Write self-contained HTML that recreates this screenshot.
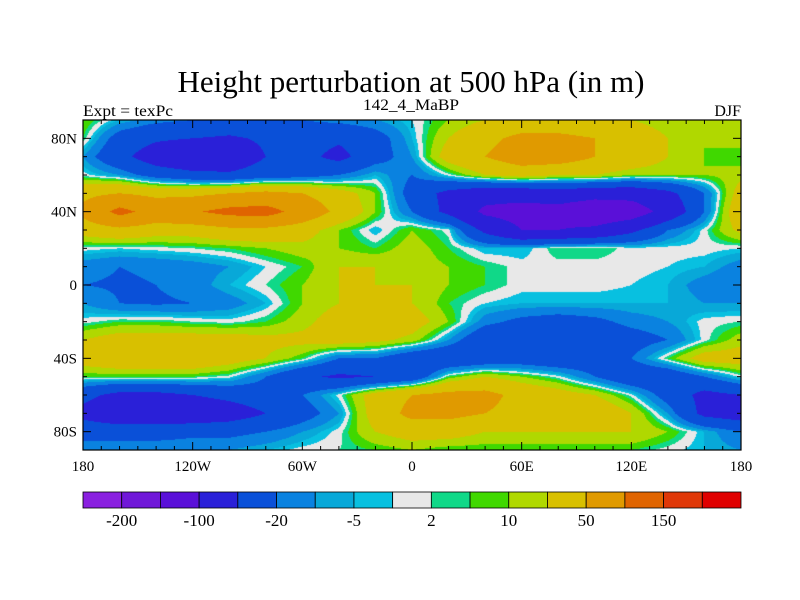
<!DOCTYPE html>
<html><head><meta charset="utf-8"><style>
html,body{margin:0;padding:0;background:#fff;}
#wrap{position:relative;width:800px;height:600px;overflow:hidden;}
#field{position:absolute;left:83px;top:120px;}
svg{position:absolute;left:0;top:0;}
</style></head><body>
<div id="wrap">
<canvas id="field" width="658" height="330"></canvas>
<svg id="svg" width="800" height="600" font-family="Liberation Serif, serif">
<text x="411" y="92" text-anchor="middle" font-size="31" textLength="467" lengthAdjust="spacingAndGlyphs">Height perturbation at 500 hPa (in m)</text>
<text x="83" y="116" font-size="16" textLength="90" lengthAdjust="spacingAndGlyphs">Expt = texPc</text>
<text x="411" y="110" text-anchor="middle" font-size="16" textLength="96" lengthAdjust="spacingAndGlyphs">142_4_MaBP</text>
<text x="741" y="116" text-anchor="end" font-size="16">DJF</text>
<g id="axes"></g>
<g id="cbar"></g>
</svg>
</div>
<script>
// Levels and colours of the filled-contour scale
const levels=[-200,-150,-100,-50,-20,-10,-5,-2,2,5,10,20,50,100,150,200];
const colors=["#8a20e0","#7018d8","#5a10d8","#2a20d8","#0a50d8","#0a82e0","#08a8d8","#08c0e0","#e8e8e8","#10d888","#40d800","#b0d800","#d8c000","#e09a00","#e06400","#e03808","#e00000"];
const cbarLabels=["-200","-100","-20","-5","2","10","50","150"];
// Grid: longitudes -180..180 step 20, latitudes 90N..90S step 10
const lons=[-180,-160,-140,-120,-100,-80,-60,-40,-20,0,20,40,60,80,100,120,140,160,180];
const lats=[90,80,70,60,50,40,30,20,10,0,-10,-20,-30,-40,-50,-60,-70,-80,-90];
const row90N=[10,-5,-15,-20,-25,-25,-20,-15,-10,-2,10,20,25,25,20,20,15,10,10];
const row80N=[5,-30,-45,-50,-55,-45,-35,-45,-30,-5,20,40,60,60,50,30,20,10,15];
const row70N=[-10,-40,-70,-85,-75,-50,-40,-60,-30,-10,30,50,70,70,50,40,20,10,5];
const row60N=[0,-10,-30,-40,-45,-35,-30,-20,-5,-20,0,20,30,20,20,10,10,10,15];
const row50N=[40,50,40,40,50,60,50,30,10,-30,-60,-80,-80,-70,-80,-80,-60,-20,30];
const row40N=[60,115,80,95,115,120,80,40,10,-20,-60,-110,-120,-120,-140,-130,-80,-20,40];
const row30N=[30,40,30,30,40,40,30,10,-5,10,0,-60,-100,-100,-90,-60,-20,0,25];
const row20N=[0,-2,0,2,5,10,15,10,5,15,5,-5,-5,5,5,0,0,0,-2];
const row10N=[-15,-20,-18,-15,-10,-2,5,20,20,15,10,5,0,0,0,0,-2,-5,-15];
const row0=[-20,-22,-20,-15,-5,2,10,20,20,20,10,5,0,0,0,-2,-5,-15,-20];
const row10S=[-10,-20,-22,-20,-15,-5,10,20,20,20,5,-2,-5,-5,-5,-5,-5,-10,-10];
const row20S=[0,5,5,2,0,5,15,30,40,30,10,-15,-25,-30,-25,-15,-10,0,2];
const row30S=[20,30,30,30,30,25,25,30,25,15,-10,-40,-40,-40,-35,-30,-20,0,15];
const row40S=[30,40,40,40,30,20,5,-20,-20,-40,-45,-40,-35,-40,-35,-20,5,30,30];
const row50S=[5,5,5,5,0,-20,-45,-55,-50,-40,5,20,10,0,-20,-40,-40,-20,0];
const row60S=[-40,-60,-60,-50,-40,-30,-20,0,30,50,60,60,40,30,20,0,-30,-60,-50];
const row70S=[-60,-80,-80,-80,-70,-50,-30,-10,30,60,60,50,40,40,40,20,-10,-60,-70];
const row80S=[-30,-30,-30,-25,-25,-20,-10,0,20,30,30,20,20,20,20,20,10,-5,-20];
const row90S=[-10,-10,-10,-10,-10,-5,0,2,5,10,5,5,5,5,5,5,0,-5,-10];
const grid=[row90N,row80N,row70N,row60N,row50N,row40N,row30N,row20N,row10N,row0,row10S,row20S,row30S,row40S,row50S,row60S,row70S,row80S,row90S];

const PX=83,PY=120,PW=658,PH=330;
function xOf(lon){return PX+(lon+180)/360*PW;}
function yOf(lat){return PY+(90-lat)/180*PH;}
function hex(c){return [parseInt(c.substr(1,2),16),parseInt(c.substr(3,2),16),parseInt(c.substr(5,2),16)];}
const rgb=colors.map(hex);
function colorIdx(v){let i=0;while(i<levels.length&&v>=levels[i])i++;return i;}

// field
(function(){
  const cv=document.getElementById('field'),ctx=cv.getContext('2d');
  const img=ctx.createImageData(PW,PH);
  const nLon=lons.length-1,nLat=lats.length-1;
  for(let py=0;py<PH;py++){
    const lat=90-(py+0.5)/PH*180;
    let fy=(lats[0]-lat)/(lats[0]-lats[nLat])*nLat; let j=Math.min(nLat-1,Math.floor(fy)); let ty=fy-j;
    for(let px=0;px<PW;px++){
      const lon=-180+(px+0.5)/PW*360;
      let fx=(lon-lons[0])/(lons[nLon]-lons[0])*nLon; let i=Math.min(nLon-1,Math.floor(fx)); let tx=fx-i;
      const a=grid[j][i],b=grid[j][i+1],c=grid[j+1][i],d=grid[j+1][i+1];
      const v=(a*(1-tx)+b*tx)*(1-ty)+(c*(1-tx)+d*tx)*ty;
      const col=rgb[colorIdx(v)];const k=(py*PW+px)*4;
      img.data[k]=col[0];img.data[k+1]=col[1];img.data[k+2]=col[2];img.data[k+3]=255;
    }
  }
  ctx.putImageData(img,0,0);
})();

const NS='http://www.w3.org/2000/svg';
function mk(tag,attrs,parent){const e=document.createElementNS(NS,tag);for(const k in attrs)e.setAttribute(k,attrs[k]);parent.appendChild(e);return e;}
const axes=document.getElementById('axes');
const frame=mk('rect',{x:PX,y:PY,width:PW,height:PH,fill:'none',stroke:'#000','stroke-width':1.2},axes);


const lonTickLabels=["180","120W","60W","0","60E","120E","180"];
const lonTickVals=[-180,-120,-60,0,60,120,180];
const latTickLabels=["80N","40N","0","40S","80S"];
const latTickVals=[80,40,0,-40,-80];
for(let lon=-170;lon<180;lon+=10){
  const x=xOf(lon),L=(lon%60===0)?8:4;
  const t1=mk('line',{x1:x,y1:PY+PH,x2:x,y2:PY+PH-L,stroke:'#000','stroke-width':1},axes);
  
  
  const t2=mk('line',{x1:x,y1:PY,x2:x,y2:PY+L,stroke:'#000','stroke-width':1},axes);
  
  
}
for(let lat=-80;lat<=80;lat+=10){
  const y=yOf(lat),L=(lat%40===0)?8:4;
  const t1=mk('line',{x1:PX,y1:y,x2:PX+L,y2:y,stroke:'#000','stroke-width':1},axes);
  
  
  const t2=mk('line',{x1:PX+PW,y1:y,x2:PX+PW-L,y2:y,stroke:'#000','stroke-width':1},axes);
  
  
}
lonTickVals.forEach((v,i)=>{
  const t=mk('text',{x:xOf(v),y:471,'text-anchor':'middle','font-size':15},axes);t.textContent=lonTickLabels[i];
  
  
});
latTickVals.forEach((v,i)=>{
  const t=mk('text',{x:PX-6,y:yOf(v)+5,'text-anchor':'end','font-size':15},axes);t.textContent=latTickLabels[i];
  
  
});
// colorbar
const cb=document.getElementById('cbar');
const CBX=83,CBW=658,CBY=492,CBH=16,bw=CBW/colors.length;
colors.forEach((c,i)=>{
  const r=mk('rect',{x:CBX+i*bw,y:CBY,width:bw,height:CBH,fill:c,stroke:'#000','stroke-width':0.8},cb);
  
  
});
cbarLabels.forEach((l,k)=>{
  const t=mk('text',{x:CBX+(2*k+1)*bw,y:526,'text-anchor':'middle','font-size':17},cb);t.textContent=l;
  
  
});
</script>
</body></html>
